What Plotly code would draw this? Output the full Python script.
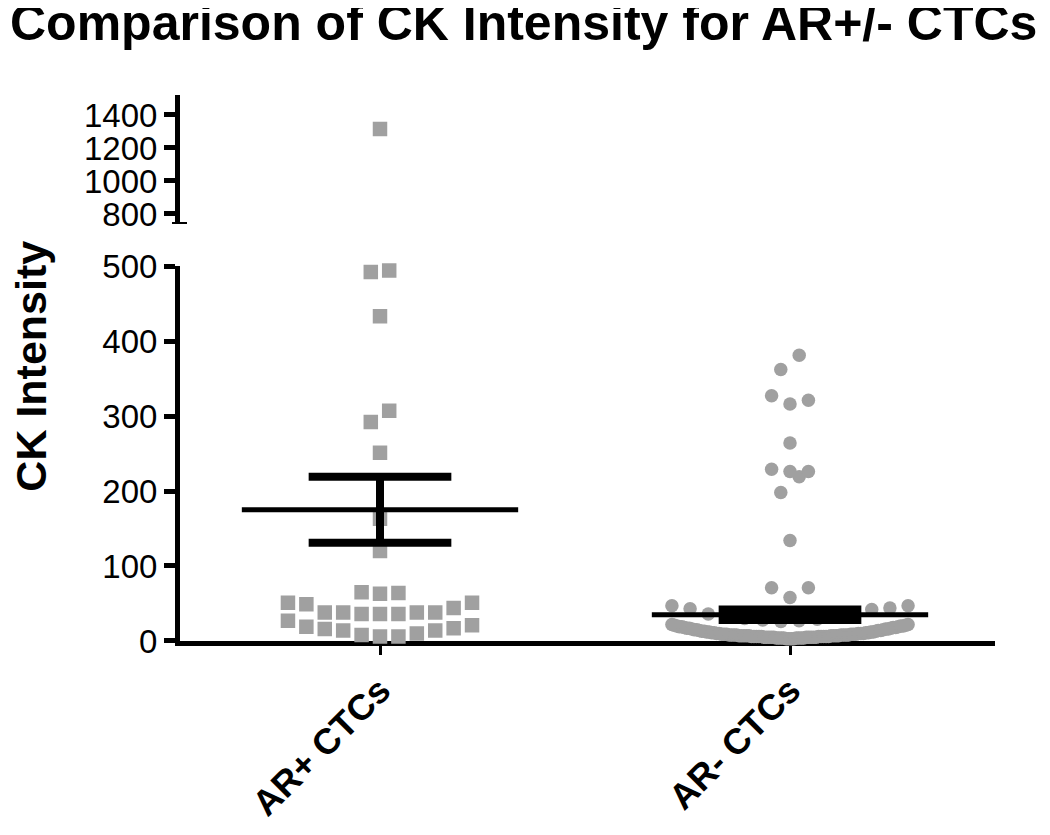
import plotly.graph_objects as go

# ---------------- data ----------------
categories = ["AR+ CTCs", "AR- CTCs"]

ar_pos_values = [1315, 494, 492, 433, 307, 292, 251, 163, 120,
                 65, 63, 64,
                 51, 49, 44, 38, 38, 38, 38, 36, 36, 36, 51,
                 27, 21, 19, 17, 16, 14, 14, 10, 8, 6, 6]

ar_neg_upper = [381, 362, 327, 321, 316, 264, 229, 226, 226, 219, 198, 134, 71, 71, 58]
ar_neg_row = [26, 27, 28, 29, 30, 32, 33, 35, 36, 42, 43, 44, 47, 47]
ar_neg_band = [3, 3, 3, 3, 4, 4, 4, 4, 4, 4, 4, 4, 5, 5, 5, 5, 5, 5, 5, 5, 5, 5,
               6, 6, 6, 6, 6, 6, 6, 6, 6, 6, 7, 7, 7, 7, 7, 7, 7, 7, 7,
               8, 8, 8, 8, 8, 8, 8, 8, 9, 9, 9, 9, 9, 9, 10, 10, 10, 10, 10,
               11, 11, 11, 11, 12, 12, 12, 12, 13, 13, 13, 14, 14, 14, 15, 15, 15,
               16, 16, 16, 17, 17, 17, 18, 18, 18, 19, 19, 19, 20, 20, 20, 21, 21, 22, 22]
ar_neg_values = ar_neg_upper + ar_neg_row + ar_neg_band

means = [175, 35]
sems = [44, 7]

low_ticks = [0, 100, 200, 300, 400, 500]
high_ticks = [800, 1000, 1200, 1400]
low_range = [0, 500]
high_range = [739, 1521]

# ---------------- layout helpers ----------------
GRAY = "#a0a0a0"
FONT = "Arial, 'Liberation Sans', sans-serif"
BIN = 22          # data units grouped into one horizontal row
STEP = 0.0449     # horizontal spacing between neighbouring symbols (x units)
MAX_HALF = 0.288  # widest half-spread of a row (x units)

# figure is drawn inside the page's default 8px body margin
FIG_W, FIG_H = 1034, 819
PLOT_W, PLOT_H = 815, 546
M_L, M_T = 172, 87


def swarm(values, center):
    vals = sorted(values)
    groups = []
    for v in vals:
        if groups and v - groups[-1][0] <= BIN:
            groups[-1].append(v)
        else:
            groups.append([v])
    xs, ys = [], []
    for g in groups:
        n = len(g)
        s = STEP
        if n > 1 and (n - 1) * STEP > 2 * MAX_HALF:
            s = 2 * MAX_HALF / (n - 1)
        if n % 2 == 1:
            slots = [0] + [k for i in range(1, n // 2 + 1) for k in (i, -i)]
        else:
            slots = [k for i in range(n // 2) for k in (-(i + 0.5), i + 0.5)]
        for v, k in zip(g, slots):
            xs.append(center + k * s)
            ys.append(v)
    return xs, ys


fig = go.Figure()

groups = [(ar_pos_values, "square", 14.5), (ar_neg_values, "circle", 13.5)]
for i, (vals, sym, size) in enumerate(groups):
    xs, ys = swarm(vals, i)
    lo = [(x, y) for x, y in zip(xs, ys) if y <= low_range[1]]
    hi = [(x, y) for x, y in zip(xs, ys) if y > low_range[1]]
    fig.add_trace(go.Scatter(
        x=[p[0] for p in lo], y=[p[1] for p in lo], mode="markers",
        marker=dict(symbol=sym, size=size, color=GRAY, line=dict(width=0)),
        cliponaxis=False, showlegend=False, xaxis="x", yaxis="y"))
    if hi:
        fig.add_trace(go.Scatter(
            x=[p[0] for p in hi], y=[p[1] for p in hi], mode="markers",
            marker=dict(symbol=sym, size=size, color=GRAY, line=dict(width=0)),
            cliponaxis=False, showlegend=False, xaxis="x", yaxis="y2"))

MEAN_HALF = 0.337
CAP_HALF = 0.174
for i, (m, s) in enumerate(zip(means, sems)):
    fig.add_trace(go.Scatter(x=[i - MEAN_HALF, i + MEAN_HALF], y=[m, m], mode="lines",
                             line=dict(color="black", width=5), showlegend=False,
                             cliponaxis=False))
    for yv in (m - s, m + s):
        fig.add_trace(go.Scatter(x=[i - CAP_HALF, i + CAP_HALF], y=[yv, yv], mode="lines",
                                 line=dict(color="black", width=8), showlegend=False,
                                 cliponaxis=False))
    fig.add_trace(go.Scatter(x=[i, i], y=[m - s, m + s], mode="lines",
                             line=dict(color="black", width=8), showlegend=False,
                             cliponaxis=False))

axis_common = dict(showline=True, linecolor="black", linewidth=5, ticks="outside",
                   ticklen=11, tickwidth=5, tickcolor="black", showgrid=False,
                   zeroline=False, layer="below traces", automargin=False,
                   tickfont=dict(family=FONT, size=33, color="black"))

fig.update_layout(
    template="none",
    width=FIG_W, height=FIG_H, autosize=False,
    margin=dict(l=M_L, r=FIG_W - M_L - PLOT_W, t=M_T, b=FIG_H - M_T - PLOT_H,
                autoexpand=False),
    paper_bgcolor="white", plot_bgcolor="white",
    showlegend=False,
    title=dict(text="<b>Comparison of CK Intensity for AR+/- CTCs</b>",
               x=2 / FIG_W, xanchor="left", xref="container",
               y=1 - 14 / FIG_H, yanchor="middle", yref="container",
               font=dict(family=FONT, size=50, color="black")),
    xaxis=dict(range=[-0.4878, 1.5], tickvals=[0, 1], ticktext=categories,
               tickangle=-45, anchor="y", **axis_common),
    yaxis=dict(range=low_range, tickvals=low_ticks, domain=[0, 0.6868],
               anchor="x", **axis_common),
    yaxis2=dict(range=high_range, tickvals=high_ticks, domain=[0.7637, 1.0],
                anchor="x", **axis_common),
)
fig.update_xaxes(ticklen=9, tickwidth=3, ticklabelstandoff=0,
                 tickfont=dict(family=FONT, size=36, color="black"),
                 ticktext=["<b>%s</b>" % c for c in categories])

fig.add_annotation(text="<b>CK Intensity</b>", textangle=-90,
                   xref="paper", yref="paper", x=-0.183, y=0.504,
                   xanchor="center", yanchor="middle", showarrow=False,
                   font=dict(family=FONT, size=43, color="black"))

# axis-break mark at the foot of the upper segment
fig.add_shape(type="line", xref="paper", yref="y2",
              x0=-8 / PLOT_W, x1=7 / PLOT_W, y0=high_range[0], y1=high_range[0],
              line=dict(color="black", width=4))

fig.write_html("out.html")
